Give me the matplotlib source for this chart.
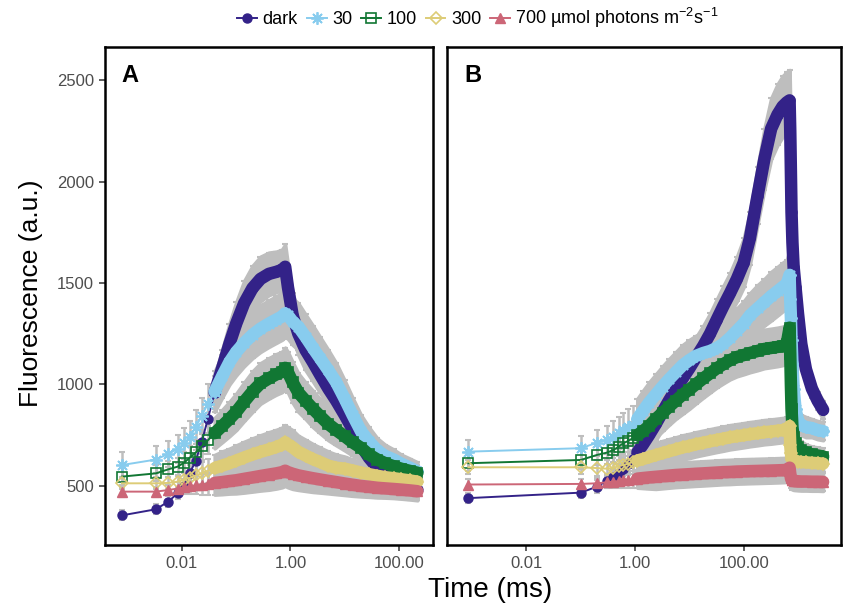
import matplotlib.pyplot as plt
from matplotlib.lines import Line2D

plt.rcParams['font.family'] = ['Liberation Sans', 'DejaVu Sans']
plt.rcParams['mathtext.fontset'] = 'custom'
plt.rcParams['mathtext.rm'] = 'Liberation Sans'
plt.rcParams['mathtext.it'] = 'Liberation Sans:italic'

##### data (time in ms, fluorescence in a.u.)
labels = ['dark', '30', '100', '300', '700 µmol photons m$^{-2}$s$^{-1}$']
colors = ['#332288', '#88CCEE', '#117733', '#DDCC77', '#CC6677']

# panel A
tA = [0.00078, 0.0033, 0.0056, 0.0083, 0.011, 0.014, 0.018, 0.023, 0.03, 0.04,
      0.055, 0.075, 0.1, 0.14, 0.2, 0.28, 0.4, 0.55, 0.7, 0.8, 0.9, 1.1, 1.4,
      1.9, 2.6, 3.5, 5, 7, 10, 14, 20, 28, 40, 56, 80, 110, 160, 220]
darkA = [355, 385, 423, 464, 500, 565, 625, 715, 830, 960, 1080, 1200, 1300,
         1400, 1475, 1520, 1545, 1555, 1565, 1580, 1480, 1340, 1250, 1170, 1110,
         1050, 980, 920, 850, 780, 700, 640, 590, 555, 525, 505, 490, 480]
l30A = [603, 630, 658, 682, 710, 742, 790, 845, 905, 965, 1040, 1110, 1160,
        1205, 1245, 1275, 1300, 1320, 1335, 1350, 1340, 1310, 1285, 1235, 1180,
        1130, 1070, 1010, 930, 850, 770, 720, 675, 648, 630, 610, 590, 572]
l100A = [546, 562, 582, 595, 615, 640, 665, 695, 725, 760, 795, 830, 865,
         915, 965, 1005, 1030, 1050, 1062, 1082, 1060, 1010, 960, 920, 880,
         845, 805, 775, 745, 715, 688, 655, 630, 612, 597, 585, 574, 565]
l300A = [513, 513, 515, 521, 530, 540, 552, 563, 575, 588, 600, 612, 625,
         640, 655, 668, 680, 692, 703, 715, 705, 690, 668, 650, 632,
         618, 600, 590, 585, 576, 566, 558, 550, 543, 538, 533, 527, 521]
l700A = [472, 472, 480, 487, 493, 498, 503, 507, 511, 515, 519, 524, 528,
         535, 542, 549, 556, 562, 568, 575, 568, 560, 552, 545, 538,
         532, 525, 519, 512, 506, 500, 496, 491, 488, 485, 482, 478, 474]
sdDarkA = [25, 25, 25, 30, 35, 40, 50, 60, 70, 80, 90, 100, 105, 110, 110, 110,
           105, 100, 100, 110, 110, 110, 105, 100, 95, 90, 85, 80, 75, 70, 65,
           60, 55, 50, 45, 40, 40, 40]
sd30A = [65, 65, 65, 70, 75, 80, 85, 90, 95, 100, 105, 110, 115, 115, 115, 115,
         115, 115, 115, 115, 115, 115, 115, 110, 110, 105, 100, 95, 90, 85, 80,
         70, 60, 55, 50, 45, 45, 45]
sd100A = [40, 40, 40, 45, 50, 55, 60, 65, 70, 75, 80, 85, 90, 95, 100, 100, 100,
          100, 100, 100, 100, 100, 95, 90, 90, 85, 80, 75, 70, 65, 60, 55, 50,
          45, 40, 40, 40, 40]
sd300A = [30, 30, 30, 35, 40, 45, 50, 55, 60, 65, 70, 72, 75, 78, 80, 82, 85,
          85, 85, 85, 85, 85, 80, 78, 75, 72, 70, 65, 60, 55, 50, 48, 45, 42,
          40, 40, 40, 40]
sd700A = [25, 25, 25, 30, 35, 40, 45, 50, 55, 58, 60, 62, 65, 68, 70, 72, 75,
          75, 75, 75, 75, 75, 72, 70, 68, 65, 62, 60, 57, 55, 52, 50, 48, 46,
          45, 45, 45, 45]

# panel B
tB = [0.00085, 0.1, 0.2, 0.3, 0.4, 0.5, 0.6, 0.75, 0.9, 1.1, 1.4, 1.8, 2.4,
      3.2, 4.2, 5.6, 7.5, 10, 13, 18, 24, 32, 42, 56, 75, 100, 130, 180, 240,
      320, 420, 520, 620, 700, 720, 740, 760, 790, 830, 900, 1000, 1150, 1400,
      1800, 2300, 2900]
darkB = [440, 467, 497, 525, 545, 565, 585, 610, 635, 665, 705, 750, 805, 865,
         920, 975, 1030, 1080, 1130, 1190, 1250, 1320, 1385, 1450, 1520, 1600,
         1720, 1930, 2110, 2260, 2330, 2370, 2390, 2400, 2250, 2050, 1850, 1700,
         1580, 1480, 1350, 1200, 1075, 980, 920, 875]
l30B = [669, 686, 713, 727, 743, 760, 776, 790, 800, 830, 870, 910, 950, 990,
        1025, 1060, 1095, 1120, 1140, 1155, 1165, 1180, 1200, 1230, 1265, 1300,
        1340, 1375, 1405, 1435, 1460, 1480, 1495, 1540, 1420, 1330, 1220, 1100,
        980, 880, 820, 800, 790, 785, 775, 770]
l100B = [612, 628, 653, 664, 677, 694, 710, 722, 735, 750, 770, 795, 830, 860,
         890, 920, 950, 975, 1000, 1030, 1055, 1080, 1100, 1120, 1135, 1145,
         1155, 1165, 1175, 1180, 1185, 1190, 1200, 1280, 1150, 1000, 880, 790,
         740, 710, 690, 675, 665, 655, 650, 645]
l300B = [592, 592, 588, 585, 590, 597, 603, 610, 618, 625, 633, 642, 652, 662,
         671, 680, 690, 697, 705, 713, 720, 727, 733, 740, 745, 750, 755, 760,
         765, 768, 772, 775, 778, 795, 700, 660, 640, 630, 625, 622, 620, 618,
         616, 614, 612, 610]
l700B = [507, 510, 513, 518, 521, 524, 527, 530, 533, 536, 539, 542, 545, 548,
         551, 554, 556, 558, 560, 562, 564, 566, 568, 569, 571, 572, 573, 574,
         575, 576, 577, 578, 579, 590, 560, 540, 530, 527, 525, 524, 523, 522,
         522, 521, 521, 520]
sdDarkB = [25, 25, 30, 35, 40, 45, 50, 55, 60, 65, 70, 75, 80, 85, 90, 95, 100,
           100, 100, 100, 100, 100, 100, 100, 110, 120, 130, 140, 150, 150, 150,
           150, 150, 150, 140, 120, 100, 90, 80, 70, 60, 55, 50, 45, 45, 45]
sd30B = [55, 60, 65, 70, 75, 80, 85, 90, 95, 100, 100, 100, 100, 100, 100, 100,
         100, 100, 100, 100, 100, 100, 105, 110, 110, 110, 110, 115, 115, 120,
         120, 120, 120, 120, 110, 100, 90, 80, 70, 60, 55, 50, 50, 45, 45, 45]
sd100B = [40, 45, 50, 55, 60, 65, 70, 75, 80, 85, 85, 90, 90, 90, 90, 90, 95, 95,
          95, 95, 95, 95, 95, 95, 95, 95, 95, 95, 95, 95, 95, 95, 95, 95, 90, 80,
          70, 60, 55, 50, 45, 45, 40, 40, 40, 40]
sd300B = [35, 35, 40, 45, 50, 50, 55, 55, 60, 60, 60, 60, 60, 60, 60, 60, 60, 60,
          60, 60, 60, 60, 60, 60, 60, 60, 60, 60, 60, 60, 60, 60, 60, 60, 55, 50,
          45, 45, 40, 40, 40, 40, 40, 40, 40, 40]
sd700B = [25, 25, 28, 30, 32, 35, 38, 40, 42, 45, 50, 55, 60, 60, 60, 60, 60,
          60, 60, 60, 60, 60, 60, 60, 60, 60, 60, 60, 60, 60, 60, 60, 60, 60, 55,
          50, 45, 45, 45, 45, 45, 45, 45, 45, 45, 45]

##### style
grey = '#BEBEBE'
mk = [dict(marker='o', mfc=colors[0], mec=colors[0], ms=6.5),
      dict(marker=(8, 2, 0), mfc=colors[1], mec=colors[1], ms=9, mew=1.3),
      dict(marker='s', mfc='none', mec=colors[2], ms=7, mew=1.2),
      dict(marker='D', mfc='none', mec=colors[3], ms=6.5, mew=1.2),
      dict(marker='^', mfc=colors[4], mec=colors[4], ms=7.5)]


def draw(ax, t, series, sds, start):
    # error bars / error envelope first, all series underneath the data
    for y, e in zip(series, sds):
        lo = [a - b for a, b in zip(y, e)]
        hi = [a + b for a, b in zip(y, e)]
        ax.fill_between(t[start:], lo[start:], hi[start:], color=grey, lw=2.5,
                        ec=grey, zorder=1)
        ax.errorbar(t, y, yerr=e, fmt='none', ecolor=grey, elinewidth=1.8,
                    capsize=2.5, capthick=1.5, zorder=1)
    for i, y in enumerate(series):
        ax.plot(t[start:], y[start:], color=colors[i], lw=9,
                solid_capstyle='round', zorder=2 + i)
        ax.plot(t, y, color=colors[i], lw=1.4, ls='-', zorder=2 + i, **mk[i])
    ax.set_xscale('log')
    ax.set_ylim(209, 2663)
    ax.set_xticks([0.01, 1, 100])
    ax.set_xticklabels(['0.01', '1.00', '100.00'])
    ax.minorticks_off()
    ax.tick_params(axis='both', colors='#333333', labelcolor='#4D4D4D',
                   labelsize=12, length=4.5, width=1.1, direction='out')
    for s in ax.spines.values():
        s.set_linewidth(1.8)
        s.set_color('black')


fig = plt.figure(figsize=(8.43, 6.09), dpi=100)
top, bot = 47, 545
axA = fig.add_axes([105 / 843, 1 - bot / 609, (433 - 105) / 843, (bot - top) / 609])
axB = fig.add_axes([447 / 843, 1 - bot / 609, (841 - 447) / 843, (bot - top) / 609])

draw(axA, tA, [darkA, l30A, l100A, l300A, l700A],
     [sdDarkA, sd30A, sd100A, sd300A, sd700A], 9)
draw(axB, tB, [darkB, l30B, l100B, l300B, l700B],
     [sdDarkB, sd30B, sd100B, sd300B, sd700B], 9)

axA.set_xlim(10 ** -3.42, 10 ** 2.63)
axB.set_xlim(10 ** -3.464, 10 ** 3.792)
axA.set_yticks([500, 1000, 1500, 2000, 2500])
axB.set_yticks([])

axA.text(0.05, 0.965, 'A', transform=axA.transAxes, fontsize=17,
         fontweight='bold', va='top', ha='left')
axB.text(0.043, 0.965, 'B', transform=axB.transAxes, fontsize=17,
         fontweight='bold', va='top', ha='left')

fig.text(490 / 843, 1 - 590 / 609, 'Time (ms)', ha='center', va='center',
         fontsize=20)
fig.text(31 / 843, 1 - 293 / 609, 'Fluorescence (a.u.)', ha='center',
         va='center', rotation=90, fontsize=19)

handles = [Line2D([], [], color=colors[i], lw=1.4, **mk[i]) for i in range(5)]
fig.legend(handles, labels, loc='center', ncol=5, frameon=False,
           bbox_to_anchor=(478 / 843, 1 - 18 / 609), fontsize=13,
           handlelength=1.1, handletextpad=0.3, columnspacing=0.5)

plt.savefig('out.png', dpi=100)
